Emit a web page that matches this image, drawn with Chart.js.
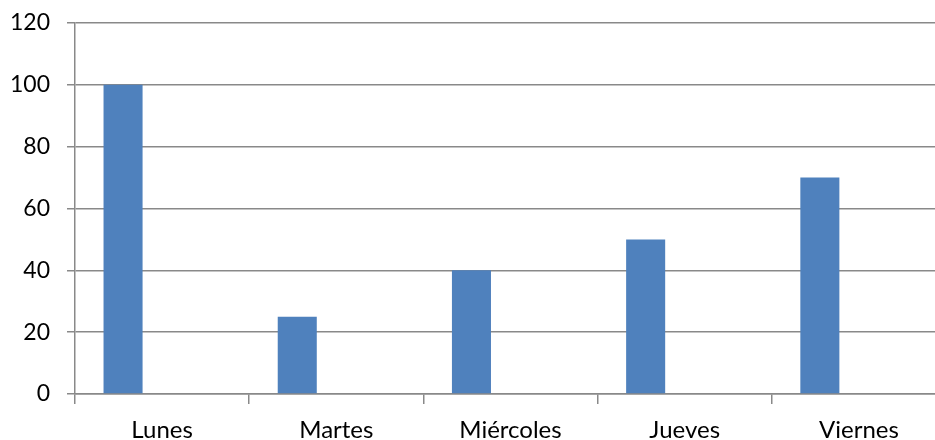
<!DOCTYPE html>
<html>
<head>
<meta charset="utf-8">
<script src="https://cdn.jsdelivr.net/npm/chart.js@4/dist/chart.umd.min.js"></script>
<style>
  html, body { margin: 0; padding: 0; background: #fff; overflow: hidden; }
  #wrap { width: 935px; height: 440px; overflow: hidden; position: relative; }
  #c { position: absolute; left: 0; top: 0; }
</style>
</head>
<body>
<div id="wrap"><canvas id="c" width="946" height="440"></canvas></div>
<script>
// Días de la semana y valores de las tres series (solo la primera tiene datos)
const dias = ['Lunes', 'Martes', 'Miércoles', 'Jueves', 'Viernes'];
const serie1 = [100, 25, 40, 50, 70];
const serie2 = [null, null, null, null, null];
const serie3 = [null, null, null, null, null];
const yTicks = [0, 20, 40, 60, 80, 100, 120];

const gris = '#898989';
const familia = 'Lato, "Open Sans", sans-serif';

new Chart(document.getElementById('c'), {
  type: 'bar',
  data: {
    labels: dias,
    datasets: [
      { label: 'Serie 1', data: serie1, backgroundColor: '#4F81BD' },
      { label: 'Serie 2', data: serie2, backgroundColor: '#C0504D' },
      { label: 'Serie 3', data: serie3, backgroundColor: '#9BBB59' }
    ]
  },
  options: {
    responsive: false,
    animation: false,
    layout: { padding: { top: 23, right: 0, bottom: 0, left: 0 } },
    datasets: { bar: { categoryPercentage: 117 / 174, barPercentage: 1 } },
    plugins: { legend: { display: false }, tooltip: { enabled: false } },
    scales: {
      x: {
        offset: true,
        grid: { display: true, drawOnChartArea: false, drawTicks: true, tickLength: 10, color: gris, lineWidth: 1.5, offset: true },
        border: { display: true, color: gris, width: 1.5 },
        ticks: { color: '#000', font: { family: familia, size: 24 }, padding: 12, maxRotation: 0 },
        afterFit: (s) => { s.height = 46; s.paddingRight = 0; s.paddingLeft = 0; }
      },
      y: {
        min: 0,
        max: 120,
        afterBuildTicks: (s) => { s.ticks = yTicks.map(v => ({ value: v })); },
        grid: { color: gris, lineWidth: 1.5, tickLength: 8, drawTicks: true },
        border: { display: true, color: gris, width: 1.5 },
        ticks: { color: '#000', font: { family: familia, size: 23 }, padding: 17 },
        afterFit: (s) => { s.width = 75; s.paddingTop = 0; s.paddingBottom = 0; }
      }
    }
  }
});
</script>
</body>
</html>
